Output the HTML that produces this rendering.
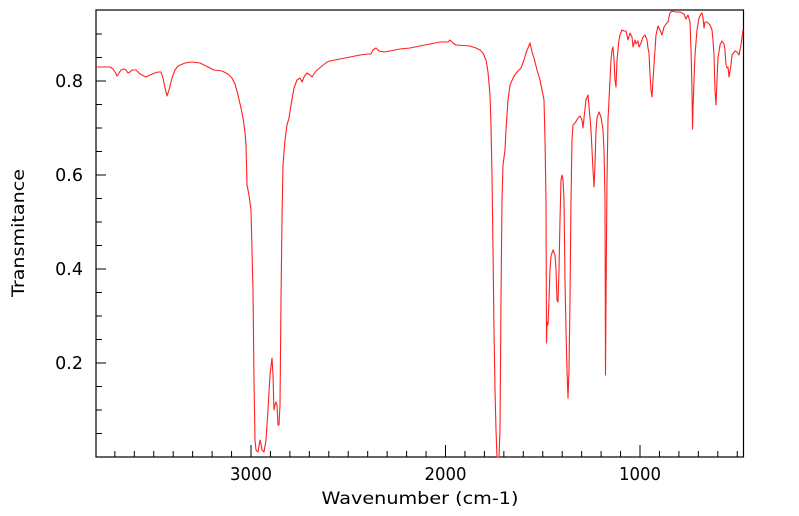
<!DOCTYPE html>
<html><head><meta charset="utf-8"><style>
html,body{margin:0;padding:0;background:#fff;}
svg{display:block;font-family:"DejaVu Sans","Liberation Sans",sans-serif;}
</style></head><body>
<svg width="799" height="516" viewBox="0 0 799 516" xmlns="http://www.w3.org/2000/svg">
<rect width="799" height="516" fill="#fff"/>
<g stroke="#000" stroke-width="1">
<path d="M114.85 457v-6M134.3 457v-6M153.75 457v-6M173.2 457v-6M192.65 457v-6M212.1 457v-6M231.55 457v-6M251 457v-12M270.45 457v-6M289.9 457v-6M309.35 457v-6M328.8 457v-6M348.25 457v-6M367.7 457v-6M387.15 457v-6M406.6 457v-6M426.05 457v-6M445.5 457v-12M464.95 457v-6M484.4 457v-6M503.85 457v-6M523.3 457v-6M542.75 457v-6M562.2 457v-6M581.65 457v-6M601.1 457v-6M620.55 457v-6M640 457v-12M659.45 457v-6M678.9 457v-6M698.35 457v-6M717.8 457v-6M737.25 457v-6"/>
<path d="M96 433.5h6M96 410h6M96 386.5h6M96 363h10M96 339.5h6M96 316h6M96 292.5h6M96 269h10M96 245.5h6M96 222h6M96 198.5h6M96 175h10M96 151.5h6M96 128h6M96 104.5h6M96 81h10M96 57.5h6M96 34h6"/>
</g>
<rect x="96" y="10" width="647.5" height="447" fill="none" stroke="#000" stroke-width="1.2"/>
<polyline fill="none" stroke="#ff2020" stroke-width="1.1" stroke-linejoin="round" points="96,67 110,67 113,69 115,72 117,76 119,73 121,70 124,69 126,70 128,73 130,72 132,70 136,70 140,74 146,77 152,74 158,72 161,72 163,78 165,88 167,96 169,90 172,78 175,70 178,66 185,63 192,62 200,63 206,66 210,68 214,70 222,71 228,74 232,78 235,84 238,95 241,108 243,118 245,132 246,145 247,185 249,195 251,210 252,250 253,290 254,380 255,440 256,450 258,452 259,446 260,440 261,444 262,450 264,452 266,440 268,410 270,375 272,358 273,375 274,410 275,405 276,402 277,405 278,425 279,425 280,405 281,300 282,220 283,165 285,140 287,125 289,118 291,105 294,88 297,80 300,78 302,82 304,77 307,73 310,75 312,77 316,71 322,66 327,62 330,61 340,59 350,57 360,55 368,54 371,54 373,50 376,48 379,51 384,52 390,51 400,49 410,48 420,46 430,44 440,42 448,42 450,40 451,41 453,43 456,45 470,46 476,48 480,50 483,53 486,60 488,72 490,95 491,125 492,175 493,250 494,330 495,390 496,430 497,457 499,457 500,430 501,300 502,200 503,165 505,150 506,130 508,100 510,85 514,76 518,71 521,68 524,60 526,53 528,48 530,43 532,52 534,58 537,70 540,80 542,90 544,100 545,140 546,200 546.5,343 547,322 548,325 549,300 550,270 551,256 553,250 555,255 556,270 557,300 558,302 559,270 560,220 561,180 562,175 563,180 564,200 565,280 566,330 567,370 568,398 569,370 570,300 571,200 572,140 573,125 575,123 578,118 580,116 582,120 583,128 584,118 586,100 588,95 590,118 591,130 592,150 593,170 594,187 595,165 596,130 597,118 599,112 601,117 603,130 604,150 605,200 605.5,375 606,300 607,180 608,120 609,100 610,80 611,60 612,50 613,47 614,60 615,80 616,87 617,60 619,40 620,35 622,30 624,31 626,31 628,40 630,33 632,37 633,47 635,40 636,44 638,41 639,47 641,43 643,37 645,35 647,40 648,48 649,53 650,75 651,90 652,97 653,80 655,50 656,35 658,26 660,30 662,35 664,27 666,24 668,22 669,17 670,13 672,11 675,12 680,12 684,14 686,19 688,15 690,22 691,50 692,90 692.5,129 693,110 694,80 695,55 697,30 699,18 701,14 702,13 703,18 704,28 705,22 707,22 710,25 712,30 713,40 714,55 715,90 716,105 717,80 718,58 720,45 722,41 724,44 725,50 726,65 727,68 728,67 729,77 731,65 732,55 735,51 737,52 739,55 741,45 743,30"/>
<g font-size="17.5" fill="#000">
<text x="83" y="87" text-anchor="end">0.8</text>
<text x="83" y="181" text-anchor="end">0.6</text>
<text x="83" y="275" text-anchor="end">0.4</text>
<text x="83" y="369" text-anchor="end">0.2</text>
<text x="251" y="480" text-anchor="middle" textLength="42" lengthAdjust="spacingAndGlyphs">3000</text>
<text x="445.5" y="480" text-anchor="middle" textLength="42" lengthAdjust="spacingAndGlyphs">2000</text>
<text x="640" y="480" text-anchor="middle" textLength="42" lengthAdjust="spacingAndGlyphs">1000</text>
<text x="420" y="504" text-anchor="middle" font-size="17" textLength="197" lengthAdjust="spacingAndGlyphs">Wavenumber (cm-1)</text>
<text transform="translate(24,233) rotate(-90)" text-anchor="middle" font-size="17" textLength="128" lengthAdjust="spacingAndGlyphs">Transmitance</text>
</g>
</svg>
</body></html>
